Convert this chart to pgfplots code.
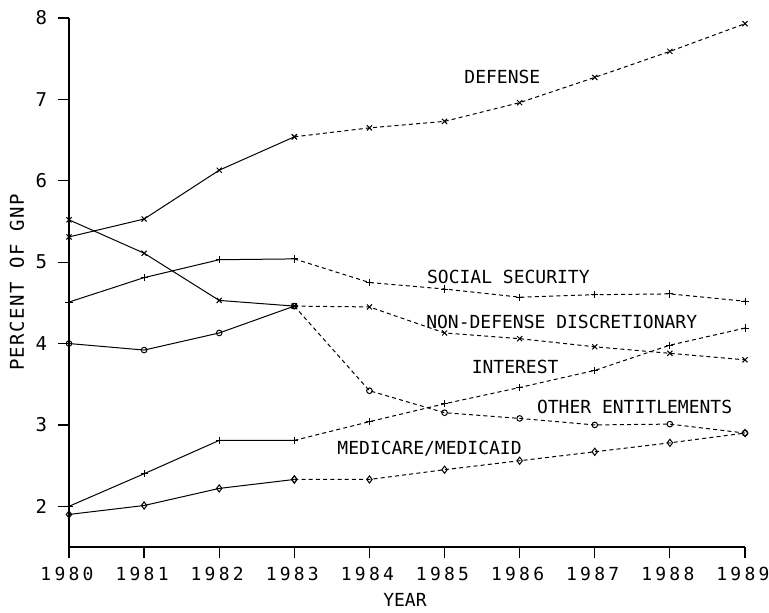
\documentclass[border=0pt]{standalone}
\usepackage{fontspec}
\setmainfont{DejaVu Sans Mono}
\newfontfamily\tickfont[LetterSpace=18]{DejaVu Sans Mono}
\newfontfamily\ylabfont[LetterSpace=8]{DejaVu Sans Mono}
\usepackage{pgfplots}
\usepackage{pgfplotstable}
\pgfplotsset{compat=1.18}

% percent of GNP
\pgfplotstableread{
year def ss nd int oth med
1980 5.31 4.51 5.52 2.00 4.00 1.90
1981 5.53 4.81 5.11 2.40 3.92 2.01
1982 6.13 5.03 4.53 2.81 4.13 2.22
1983 6.54 5.04 4.46 2.81 4.46 2.33
1984 6.65 4.75 4.45 3.04 3.42 2.33
1985 6.73 4.67 4.13 3.26 3.15 2.45
1986 6.96 4.57 4.06 3.46 3.08 2.56
1987 7.27 4.60 3.96 3.67 3.00 2.67
1988 7.59 4.61 3.88 3.98 3.01 2.78
1989 7.93 4.52 3.80 4.19 2.90 2.90
}\gnp

\begin{document}
\begin{tikzpicture}[font=\fontsize{9}{10}\selectfont]
\begin{axis}[
    scale only axis,
    width=338pt,
    height=264.5pt,
    xmin=1980, xmax=1989,
    ymin=1.5, ymax=8,
    axis x line=bottom,
    axis y line=left,
    axis line style={-, line width=0.6pt},
    xtick={1980,...,1989},
    ytick={2,...,8},
    tick align=outside,
    major tick length=5.5pt,
    tick style={line width=0.6pt, black},
    /pgf/number format/1000 sep={},
    /pgf/number format/assume math mode=true,
    xticklabel style={font=\tickfont\fontsize{9}{10}\selectfont, yshift=-1pt, xshift=-1pt},
    yticklabel style={font=\fontsize{9.5}{10}\selectfont, xshift=-2pt},
    xlabel={YEAR},
    ylabel={PERCENT OF GNP},
    every axis x label/.style={at={(axis description cs:0.497,0)}, yshift=-26.5pt, anchor=center},
    every axis y label/.style={at={(axis description cs:0,0.5)}, xshift=-26pt, rotate=90, anchor=center, font=\ylabfont\fontsize{9.5}{10}\selectfont},
    every axis plot/.append style={black, line width=0.5pt, mark size=1.8pt, mark options={solid}},
    solidpart/.style={restrict x to domain=1980:1983},
    dashpart/.style={restrict x to domain=1983:1989, dash pattern=on 2pt off 1.6pt},
]
\addplot[solidpart, mark=x] table[x=year, y=def] {\gnp};
\addplot[dashpart, mark=x] table[x=year, y=def] {\gnp};
\addplot[solidpart, mark=+] table[x=year, y=ss] {\gnp};
\addplot[dashpart, mark=+] table[x=year, y=ss] {\gnp};
\addplot[solidpart, mark=x] table[x=year, y=nd] {\gnp};
\addplot[dashpart, mark=x] table[x=year, y=nd] {\gnp};
\addplot[solidpart, mark=+] table[x=year, y=int] {\gnp};
\addplot[dashpart, mark=+] table[x=year, y=int] {\gnp};
\addplot[solidpart, mark=o, mark size=1.4pt] table[x=year, y=oth] {\gnp};
\addplot[dashpart, mark=o, mark size=1.4pt] table[x=year, y=oth] {\gnp};
\addplot[solidpart, mark=diamond] table[x=year, y=med] {\gnp};
\addplot[dashpart, mark=diamond] table[x=year, y=med] {\gnp};

\node at (axis cs:1985.77,7.27) {DEFENSE};
\node at (axis cs:1985.85,4.82) {SOCIAL SECURITY};
\node at (axis cs:1986.56,4.27) {NON-DEFENSE DISCRETIONARY};
\node at (axis cs:1985.94,3.71) {INTEREST};
\node at (axis cs:1987.53,3.22) {OTHER ENTITLEMENTS};
\node at (axis cs:1984.80,2.71) {MEDICARE/MEDICAID};
\end{axis}
\pgfresetboundingbox
\path ([shift={(-34.5pt,-32.5pt)}]current axis.south west) rectangle ([shift={(12pt,9pt)}]current axis.north east);
\end{tikzpicture}
\end{document}
